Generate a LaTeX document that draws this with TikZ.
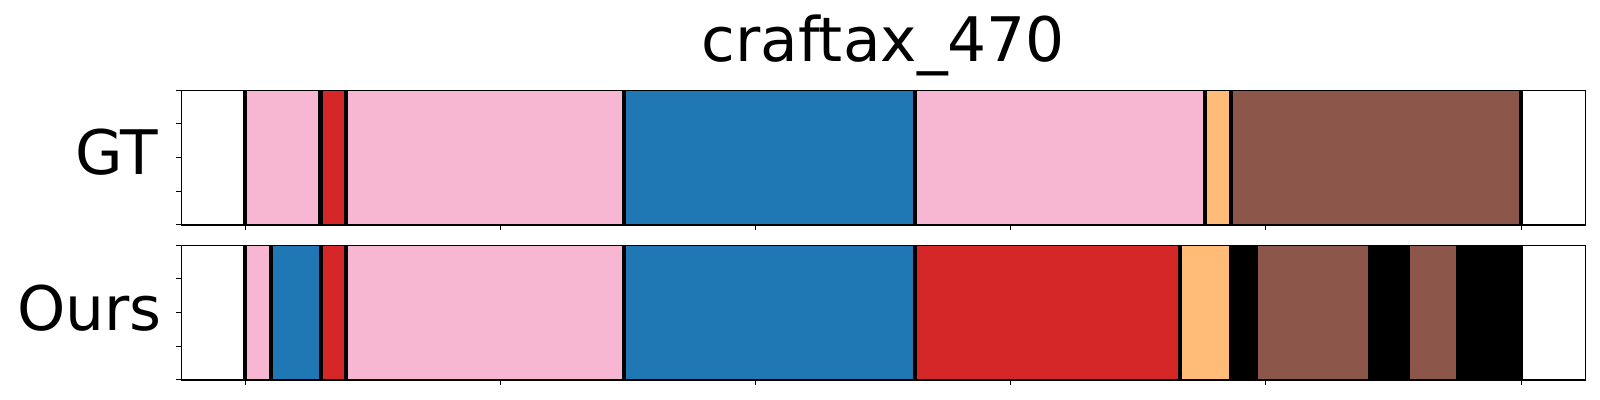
\documentclass[tikz,border=0pt]{standalone}
\usepackage{fontspec}
\setmainfont{DejaVu Sans}
\definecolor{pinkc}{HTML}{F7B6D2}
\definecolor{redc}{HTML}{D62728}
\definecolor{bluec}{HTML}{1F77B4}
\definecolor{orangec}{HTML}{FFBB78}
\definecolor{brownc}{HTML}{8C564B}
\begin{document}
\begin{tikzpicture}[x=0.5pt,y=-0.5pt,
  bline/.style={black,line width=2.15pt,line cap=butt},
  spine/.style={black,line width=0.55pt},
  tickmark/.style={black,line width=0.5pt},
  bigtext/.style={font=\fontsize{30.7}{37}\selectfont}]
\useasboundingbox (0,0) rectangle (1600,400);
% top axes (GT): y from 90.3 to 225
\foreach \a/\b/\c in {245/320.5/pinkc,320.5/346/redc,346/624/pinkc,624/915/bluec,915/1205/pinkc,1205/1231/orangec,1231/1521/brownc}
  \fill[\c] (\a,90.3) rectangle (\b,225);
\foreach \x in {245,320.5,346,624,915,1205,1231,1521}
  \draw[bline] (\x,90.3) -- (\x,225);
% bottom axes (Ours): y from 245.3 to 380
\foreach \a/\b/\c in {245/271.2/pinkc,271.2/321/bluec,321/346/redc,346/624/pinkc,624/915/bluec,915/1180/redc,1180/1229/orangec,1229/1257.7/black,1257.7/1367.7/brownc,1367.7/1410/black,1410/1455.7/brownc,1455.7/1521/black}
  \fill[\c] (\a,245.3) rectangle (\b,380);
\foreach \x in {245,271.2,321,346,624,915,1180,1521}
  \draw[bline] (\x,245.3) -- (\x,380);
% spines
\draw[spine] (181.3,90.3) rectangle (1585.3,225);
\draw[spine] (181.3,245.3) rectangle (1585.3,380);
% ticks
\foreach \i in {0,...,5} {
  \draw[tickmark] ({245.7+255.06*\i},225) -- ++(0,4.9);
  \draw[tickmark] ({245.7+255.06*\i},380) -- ++(0,4.9);
}
\foreach \j in {0,...,4} {
  \draw[tickmark] (181.3,{90.3+33.675*\j}) -- ++(-4.9,0);
  \draw[tickmark] (181.3,{245.3+33.675*\j}) -- ++(-4.9,0);
}
% texts
\node[bigtext,anchor=base,inner sep=0pt] (title) at (883.3,62) {craftax\_470};
\node[bigtext,anchor=base east,inner sep=0pt] (gt) at (158.5,174.3) {GT};
\node[bigtext,anchor=base east,inner sep=0pt] (ours) at (162,330.5) {Ours};
\end{tikzpicture}
\end{document}
